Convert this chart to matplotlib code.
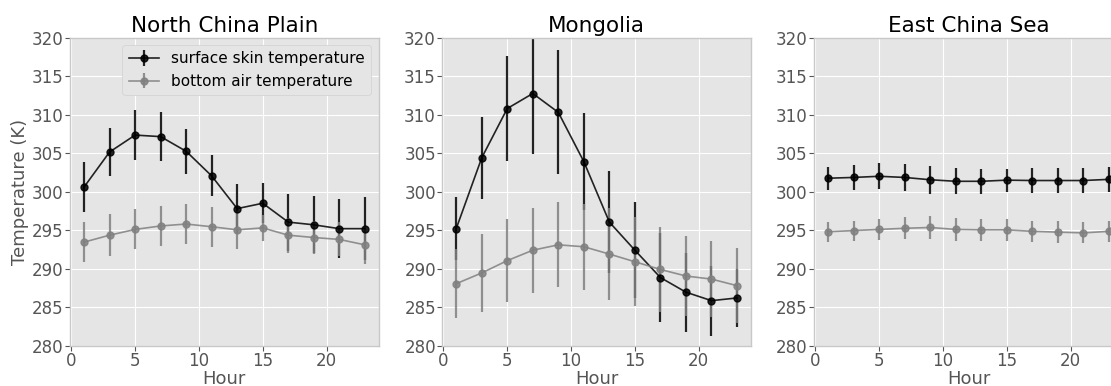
import matplotlib
matplotlib.use("Agg")
import matplotlib.pyplot as plt

plt.style.use("ggplot")

hours = [1, 3, 5, 7, 9, 11, 13, 15, 17, 19, 21, 23]
regions = ["North China Plain", "Mongolia", "East China Sea"]

# surface skin temperature (mean, std) per region
skin_ncp = [300.6, 305.15, 307.35, 307.15, 305.25, 302.05, 297.8, 298.5, 296.05, 295.7, 295.2, 295.2]
skin_ncp_err = [3.2, 3.1, 3.2, 3.2, 2.9, 2.65, 3.2, 2.6, 3.7, 3.7, 3.8, 4.1]
skin_mng = [295.2, 304.4, 310.8, 312.75, 310.3, 303.9, 296.05, 292.4, 288.85, 286.95, 285.85, 286.2]
skin_mng_err = [4.1, 5.3, 6.8, 7.9, 8.05, 6.3, 6.6, 6.2, 5.8, 5.15, 4.55, 3.8]
skin_ecs = [301.75, 301.85, 302.0, 301.85, 301.55, 301.35, 301.35, 301.5, 301.45, 301.45, 301.45, 301.6]
skin_ecs_err = [1.5, 1.6, 1.7, 1.8, 1.8, 1.7, 1.6, 1.5, 1.6, 1.6, 1.65, 1.6]

# bottom air temperature (mean, std) per region
air_ncp = [293.45, 294.35, 295.1, 295.55, 295.8, 295.45, 295.05, 295.3, 294.35, 294.05, 293.8, 293.1]
air_ncp_err = [2.6, 2.7, 2.6, 2.6, 2.6, 2.6, 2.5, 1.7, 2.25, 2.2, 2.2, 2.5]
air_mng = [288.05, 289.45, 291.05, 292.4, 293.1, 292.85, 291.9, 290.9, 289.9, 289.05, 288.65, 287.8]
air_mng_err = [4.5, 5.05, 5.4, 5.5, 5.5, 5.6, 6.0, 5.75, 5.55, 5.2, 4.95, 4.85]
air_ecs = [294.8, 294.95, 295.1, 295.25, 295.35, 295.1, 295.05, 295.05, 294.85, 294.75, 294.65, 294.85]
air_ecs_err = [1.3, 1.3, 1.35, 1.4, 1.5, 1.5, 1.4, 1.4, 1.35, 1.4, 1.35, 1.4]

skin = [(skin_ncp, skin_ncp_err), (skin_mng, skin_mng_err), (skin_ecs, skin_ecs_err)]
air = [(air_ncp, air_ncp_err), (air_mng, air_mng_err), (air_ecs, air_ecs_err)]

fig = plt.figure(figsize=(11.11, 3.86), dpi=100)
lefts = [0.063, 0.398, 0.7327]
axes = [fig.add_axes([l, 0.1044, 0.278, 0.798]) for l in lefts]

for i, ax in enumerate(axes):
    ax.errorbar(hours, skin[i][0], yerr=skin[i][1], color="k", marker="o",
                markersize=5, linewidth=1.2, elinewidth=1.6, alpha=0.85,
                label="surface skin temperature")
    ax.errorbar(hours, air[i][0], yerr=air[i][1], color="grey", marker="o",
                markersize=5, linewidth=1.2, elinewidth=1.6, alpha=0.85,
                label="bottom air temperature")
    ax.set_ylim(280, 320)
    ax.set_yticks(range(280, 321, 5))
    ax.set_xticks([0, 5, 10, 15, 20])
    ax.set_title(regions[i], fontsize=15.5, color="black", pad=4)
    ax.set_xlabel("Hour", fontsize=13, color="#555555", labelpad=0)
    ax.tick_params(labelsize=12, colors="#555555", pad=1)
    for sp in ax.spines.values():
        sp.set_visible(True)
        sp.set_color("#c8c8c8")
        sp.set_linewidth(1)

axes[0].set_ylabel("Temperature (K)", fontsize=13, color="#555555", labelpad=2)
leg = axes[0].legend(loc="upper right", fontsize=11, framealpha=1)
leg.get_frame().set_facecolor("#e5e5e5")
leg.get_frame().set_edgecolor("#d0d0d0")

fig.savefig("out.png", dpi=100)
